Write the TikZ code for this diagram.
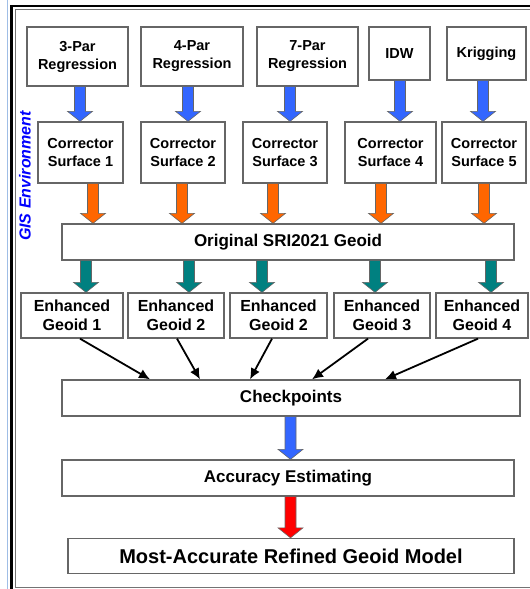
\documentclass[tikz,border=0pt]{standalone}
\usepackage{fontspec}
\setmainfont{Liberation Sans}
\usetikzlibrary{arrows.meta}
\usetikzlibrary{calc}
\usepackage{xcolor}

\definecolor{arrowblue}{RGB}{51,102,255}
\definecolor{arroworange}{RGB}{255,102,0}
\definecolor{arrowteal}{RGB}{0,128,128}
\definecolor{arrowred}{RGB}{255,0,0}
\definecolor{gisblue}{RGB}{0,0,255}
\definecolor{paleblue}{RGB}{160,190,230}

% fat arrow: colour, from, to
\newcommand{\fatarrow}[3]{%
  \draw[draw=black!60, fill=#1, line width=0.6pt]
    ($(#2)+(-5.5,0)$) -- ($(#3)+(-5.5,-10)$) -- ($(#3)+(-12.5,-10)$) -- (#3)
    -- ($(#3)+(12.5,-10)$) -- ($(#3)+(5.5,-10)$) -- ($(#2)+(5.5,0)$) -- cycle;
}

\begin{document}
\begin{tikzpicture}[x=1pt,y=-1pt,
    box/.style={draw=black!60, line width=1.3pt, fill=white, align=center, inner sep=0pt},
    small/.style={font=\fontsize{14.5}{18}\selectfont\bfseries},
    medium/.style={font=\fontsize{16}{19}\selectfont\bfseries},
    large/.style={font=\fontsize{17}{20}\selectfont\bfseries}]

        \useasboundingbox (0,0) rectangle (530,589);

        % Frame
        \draw[paleblue, line width=1pt] (7,0) -- (7,589);
        \draw[line width=2.6pt] (11.5,6) rectangle (545,600);
        \draw[black!55, line width=1pt] (15,9.5) rectangle (545,587.5);
        \node[rotate=90, text=gisblue, font=\fontsize{16}{19}\selectfont\bfseries\itshape] (gis) at (25,176) {GIS Environment};

        % Methods
        \node[box, small, minimum width=101, minimum height=59] (reg1) at (77.5,56.5) {3-Par\\Regression};
        \node[box, small, minimum width=102, minimum height=59] (reg2) at (192,56.5) {4-Par\\Regression};
        \node[box, small, minimum width=101, minimum height=59] (reg3) at (307.5,56.5) {7-Par\\Regression};
        \node[box, small, minimum width=61, minimum height=53] (idw) at (399.5,53.5) {IDW};
        \node[box, small, minimum width=79, minimum height=53] (krig) at (486.5,53.5) {Krigging};

        % Corrector surfaces
        \node[box, small, minimum width=85, minimum height=61] (cs1) at (80.5,152.5) {Corrector\\Surface 1};
        \node[box, small, minimum width=84, minimum height=61] (cs2) at (183,152.5) {Corrector\\Surface 2};
        \node[box, small, minimum width=84, minimum height=61] (cs3) at (285,152.5) {Corrector\\Surface 3};
        \node[box, small, minimum width=91, minimum height=61] (cs4) at (390.5,152.5) {Corrector\\Surface 4};
        \node[box, small, minimum width=84, minimum height=61] (cs5) at (484,152.5) {Corrector\\Surface 5};

        \node[box, large, minimum width=452, minimum height=36] (orig) at (288,242) {Original SRI2021 Geoid};

        % Enhanced geoids
        \node[box, medium, minimum width=102, minimum height=45] (eg1) at (72,315.5) {Enhanced\\Geoid 1};
        \node[box, medium, minimum width=96, minimum height=45] (eg2) at (176,315.5) {Enhanced\\Geoid 2};
        \node[box, medium, minimum width=97, minimum height=45] (eg3) at (278.5,315.5) {Enhanced\\Geoid 2};
        \node[box, medium, minimum width=96, minimum height=45] (eg4) at (382,315.5) {Enhanced\\Geoid 3};
        \node[box, medium, minimum width=92, minimum height=45] (eg5) at (482,315.5) {Enhanced\\Geoid 4};

        \node[box, large, minimum width=458, minimum height=36] (check) at (291,398) {Checkpoints};
        \node[box, large, minimum width=452, minimum height=36] (acc) at (288,478) {Accuracy Estimating};
        \node[box, font=\fontsize{20}{24}\selectfont\bfseries, minimum width=446, minimum height=35] (best) at (291,556) {Most-Accurate Refined Geoid Model};

        % Fat arrows
        \foreach \s/\t/\x in {reg1/cs1/80, reg2/cs2/188, reg3/cs3/290, idw/cs4/400, krig/cs5/483}
          \fatarrow{arrowblue}{\s.south -| \x,0}{\t.north -| \x,0};
        \foreach \s/\x in {cs1/93, cs2/182, cs3/273, cs4/381, cs5/484}
          \fatarrow{arroworange}{\s.south -| \x,0}{orig.north -| \x,0};
        \foreach \t/\x in {eg1/86, eg2/189, eg3/262, eg4/375, eg5/491}
          \fatarrow{arrowteal}{orig.south -| \x,0}{\t.north -| \x,0};
        \fatarrow{arrowblue}{check.south -| 290.5,0}{acc.north -| 290.5,0};
        \fatarrow{arrowred}{acc.south -| 290.5,0}{best.north -| 290.5,0};

        % Thin arrows
        \foreach \s/\a/\b in {eg1/80/150, eg2/177/200, eg3/272/250, eg4/368/312, eg5/478/385}
          \draw[line width=1.8pt, -{Latex[length=11pt,width=10pt]}] (\s.south -| \a,0) -- (check.north -| \b,0);

\end{tikzpicture}
\end{document}
